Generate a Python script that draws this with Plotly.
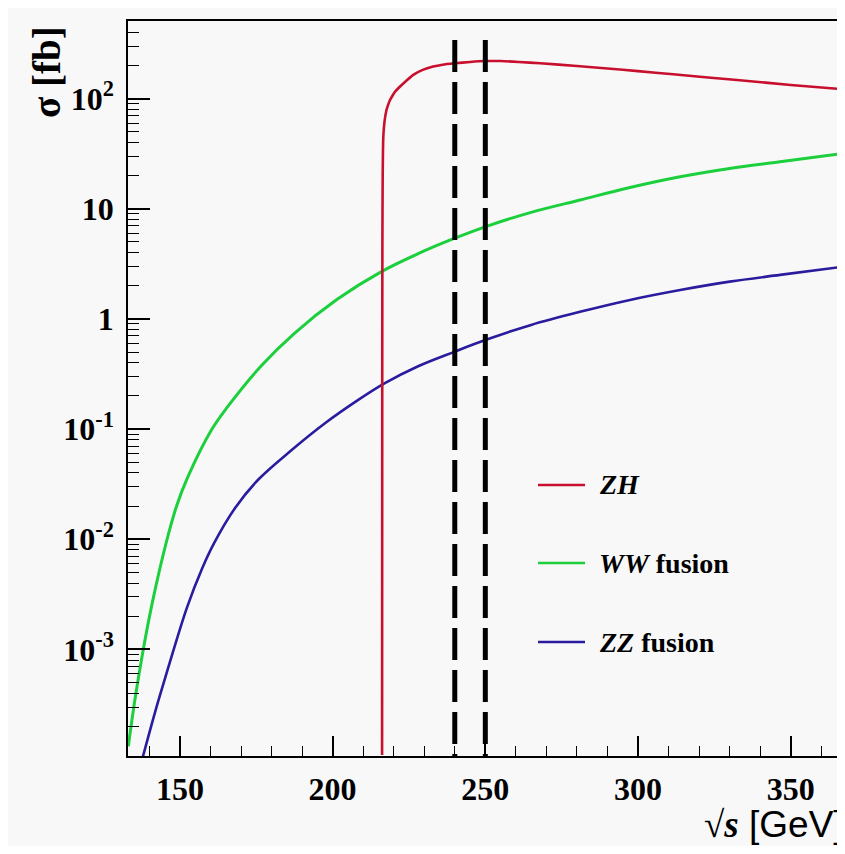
import plotly.graph_objects as go

# ---------------- data ----------------
sqrt_s_zh = [216.2, 216.25, 216.3, 216.4, 216.6, 217.0, 217.6, 218.2, 218.8, 219.5,
             220.3, 221.5, 223.5, 226.4, 229.5, 232.9, 236.0, 240.0, 245.0, 250.0,
             255.0, 261.0, 268.0, 280.0, 290.0, 300.0, 311.5, 322.0, 333.3, 350.0, 367.8]
sigma_zh = [1.1e-4, 0.5, 5.0, 20.0, 45.0, 62.0, 78.0, 88.0, 97.0, 105.0,
            114.0, 124.0, 140.0, 164.0, 182.0, 195.0, 203.0, 209.0, 215.0, 219.0,
            219.0, 215.0, 209.0, 197.5, 187.5, 177.5, 166.0, 156.0, 146.5, 133.0, 121.0]

sqrt_s_ww = [133.1, 135.3, 138.0, 141.0, 145.5, 149.0, 152.5, 160.5, 165.5, 176.5,
             187.5, 201.5, 216.0, 228.0, 240.0, 250.2, 265.0, 281.0, 297.0, 313.8,
             330.0, 346.5, 367.8]
sigma_ww = [1.32e-4, 3.55e-4, 1.0e-3, 2.69e-3, 0.0093, 0.0204, 0.0363, 0.100, 0.158, 0.372,
            0.741, 1.507, 2.69, 3.91, 5.40, 6.89, 9.27, 12.0, 15.5, 19.5,
            23.2, 26.7, 32.0]

sqrt_s_zz = [137.9, 141.8, 145.1, 147.7, 152.3, 157.2, 161.1, 168.0, 175.6, 186.6,
             197.5, 208.4, 217.1, 228.0, 240.0, 250.2, 265.0, 281.0, 297.0, 313.8,
             330.0, 346.5, 367.8]
sigma_zz = [1.07e-4, 2.66e-4, 5.43e-4, 9.44e-4, 2.40e-3, 5.37e-3, 9.12e-3, 0.0191, 0.0347, 0.0646,
            0.113, 0.184, 0.261, 0.372, 0.505, 0.646, 0.883, 1.16, 1.48, 1.83,
            2.18, 2.51, 2.99]

marker_energies = [240, 250]
marker_top = 340.0

x_tick_vals = [150, 200, 250, 300, 350]
y_tick_vals = [1e-3, 1e-2, 1e-1, 1, 10, 100]
y_tick_text = ["10<sup>-3</sup>", "10<sup>-2</sup>", "10<sup>-1</sup>", "1", "10", "10<sup>2</sup>"]

legend_labels = ["<b><i>ZH</i></b>", "<b><i>WW</i> fusion</b>", "<b><i>ZZ</i> fusion</b>"]

# ---------------- styling ----------------
C_ZH = "#c8102e"
C_WW = "#1ccf3c"
C_ZZ = "#2a1c9e"
SERIF = "Liberation Serif"
BG = "#f8f8f8"

OFF = 8                      # page body margin
W, H = 845 - 2 * OFF, 854 - 2 * OFF
L, R, T = 120, 0, 13
PH = 735
B = H - T - PH
PW = W - L - R
X_MIN = 133.0
X_MAX = X_MIN + PW * 50.0 / 152.7


def px_x(p):                 # p in reference-page pixels
    return (p - OFF - L) / PW


def px_y(p):
    return (H - B - (p - OFF)) / PH


fig = go.Figure()

fig.add_trace(go.Scatter(x=sqrt_s_ww, y=sigma_ww, mode="lines",
                         line=dict(color=C_WW, width=3, shape="spline", smoothing=1.0),
                         showlegend=False, hoverinfo="skip"))
fig.add_trace(go.Scatter(x=sqrt_s_zz, y=sigma_zz, mode="lines",
                         line=dict(color=C_ZZ, width=2.6, shape="spline", smoothing=1.0),
                         showlegend=False, hoverinfo="skip"))
fig.add_trace(go.Scatter(x=sqrt_s_zh, y=sigma_zh, mode="lines",
                         line=dict(color=C_ZH, width=2.6, shape="spline", smoothing=0.5),
                         showlegend=False, hoverinfo="skip"))

for e in marker_energies:
    fig.add_trace(go.Scatter(x=[e, e], y=[marker_top, 1e-6], mode="lines",
                             line=dict(color="black", width=5, dash="32px,10px"),
                             showlegend=False, hoverinfo="skip"))

x_minor = [v for v in range(140, 370, 10) if v not in x_tick_vals]
y_minor = [k * 10.0 ** e for e in range(-4, 3) for k in range(2, 10)]

fig.update_xaxes(
    type="linear", range=[X_MIN, X_MAX],
    showgrid=False, zeroline=False,
    showline=True, linecolor="black", linewidth=1.5, mirror=True,
    ticks="inside", ticklen=20, tickwidth=1.5, tickcolor="black",
    tickmode="array", tickvals=x_tick_vals,
    ticklabelstandoff=4,
    tickfont=dict(family=SERIF, size=32, color="black", weight="bold"),
    minor=dict(ticks="inside", ticklen=10, tickwidth=1.3, tickcolor="black",
               tickmode="array", tickvals=x_minor, showgrid=False),
)
fig.update_yaxes(
    type="log", range=[-3.967, 2.704],
    showgrid=False, zeroline=False,
    showline=True, linecolor="black", linewidth=1.5, mirror=False,
    ticks="inside", ticklen=22, tickwidth=1.5, tickcolor="black",
    tickmode="array", tickvals=y_tick_vals, ticktext=y_tick_text,
    ticklabelstandoff=6,
    tickfont=dict(family=SERIF, size=32, color="black", weight="bold"),
    minor=dict(ticks="inside", ticklen=11, tickwidth=1.2, tickcolor="black",
               tickmode="array", tickvals=y_minor, showgrid=False),
)

shapes = []
annotations = []
legend_rows = [485, 563, 642]
legend_colors = [C_ZH, C_WW, C_ZZ]
for lab, row, col in zip(legend_labels, legend_rows, legend_colors):
    shapes.append(dict(type="line", xref="paper", yref="paper",
                       x0=px_x(538), x1=px_x(585), y0=px_y(row), y1=px_y(row),
                       line=dict(color=col, width=2.6)))
    annotations.append(dict(xref="paper", yref="paper", x=px_x(597), y=px_y(row),
                            xanchor="left", yanchor="middle", showarrow=False,
                            text=lab, font=dict(family=SERIF, size=28, color="black")))

# axis titles
annotations.append(dict(xref="paper", yref="paper", x=px_x(46), y=px_y(72),
                        xanchor="center", yanchor="middle", showarrow=False, textangle=-90,
                        text="<b>σ [fb]</b>", font=dict(family=SERIF, size=39, color="black")))
annotations.append(dict(xref="paper", yref="paper", x=px_x(702), y=px_y(824),
                        xanchor="left", yanchor="middle", showarrow=False,
                        text='<span style="font-family:Liberation Serif"><b>√<i>s</i></b></span> [GeV]',
                        font=dict(family="Liberation Sans", size=37, color="black")))

fig.update_layout(
    width=W, height=H,
    margin=dict(l=L, r=R, t=T, b=B, pad=0),
    paper_bgcolor=BG, plot_bgcolor=BG,
    shapes=shapes, annotations=annotations,
    showlegend=False,
)

fig.write_html("out.html")
